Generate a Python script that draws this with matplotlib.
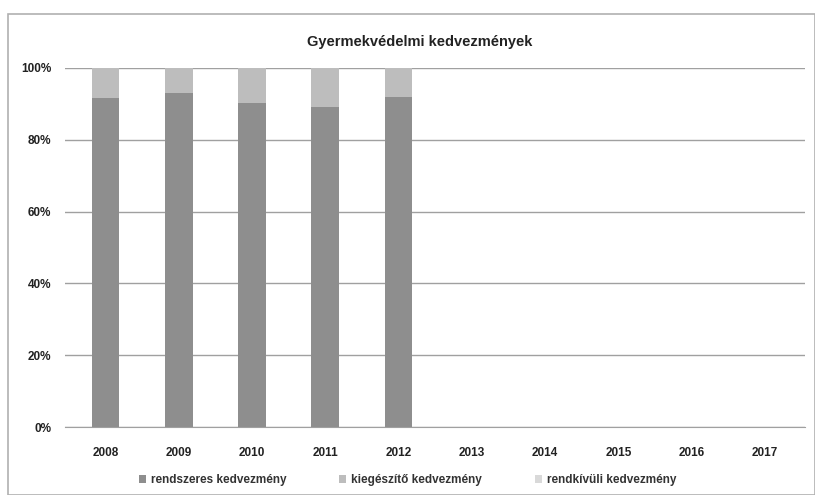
import numpy as np
import matplotlib
matplotlib.use('Agg')
import matplotlib.pyplot as plt
from matplotlib.ticker import PercentFormatter
from matplotlib.patches import Rectangle

plt.rcParams['font.family'] = ['Liberation Sans', 'DejaVu Sans']

# Data (share of each benefit type, %)
years = ['2008', '2009', '2010', '2011', '2012', '2013', '2014', '2015', '2016', '2017']
rendszeres = [91.6, 93.1, 90.3, 89.0, 91.8, 0, 0, 0, 0, 0]
kiegeszito = [8.4, 6.9, 9.7, 11.0, 8.2, 0, 0, 0, 0, 0]
rendkivuli = [0, 0, 0, 0, 0, 0, 0, 0, 0, 0]

series = [
    (rendszeres, 'rendszeres kedvezmény', '#8e8e8e'),
    (kiegeszito, 'kiegészítő kedvezmény', '#bdbdbd'),
    (rendkivuli, 'rendkívüli kedvezmény', '#d9d9d9'),
]

fig = plt.figure(figsize=(8.15, 4.95), dpi=100)
fig.patch.set_facecolor('white')
ax = fig.add_axes([0.08, 0.137, 0.908, 0.726])

x = np.arange(len(years))
bottom = np.zeros(len(years))
for vals, label, col in series:
    vals = np.array(vals, dtype=float)
    ax.bar(x, vals, width=0.38, bottom=bottom, color=col, label=label, zorder=3)
    bottom += vals

ax.set_xlim(-0.55, len(years) - 0.45)
ax.set_ylim(0, 100)
ax.set_yticks(np.arange(0, 101, 20))
ax.yaxis.set_major_formatter(PercentFormatter(decimals=0))
ax.set_xticks(x)
ax.set_xticklabels(years)
ax.grid(axis='y', color='#a0a0a0', linewidth=1.0, zorder=0)
for s in ['top', 'right', 'left']:
    ax.spines[s].set_visible(False)
ax.spines['bottom'].set_color('#a0a0a0')
ax.tick_params(axis='x', length=0, labelsize=8.5, pad=14)
ax.tick_params(axis='y', length=0, labelsize=8.5, pad=10)
for lbl in ax.get_xticklabels() + ax.get_yticklabels():
    lbl.set_fontweight('bold')
    lbl.set_color('#222222')

fig.text(0.515, 0.915, 'Gyermekvédelmi kedvezmények', ha='center', va='center',
         fontsize=10.5, fontweight='bold', color='#222222')

leg = fig.legend(loc='center', bbox_to_anchor=(0.5, 0.03), ncol=3, frameon=False,
                 fontsize=8.5, handlelength=0.6, handleheight=0.6, columnspacing=4.5,
                 handletextpad=0.4)
for t in leg.get_texts():
    t.set_fontweight('bold')
    t.set_color('#333333')

# chart frame (scanned page border)
fig.patches.append(Rectangle((0.01, 0.0), 0.99, 0.972, transform=fig.transFigure,
                             fill=False, edgecolor='#b0b0b0', linewidth=1.2))

fig.savefig('out.png', dpi=100, facecolor='white')
